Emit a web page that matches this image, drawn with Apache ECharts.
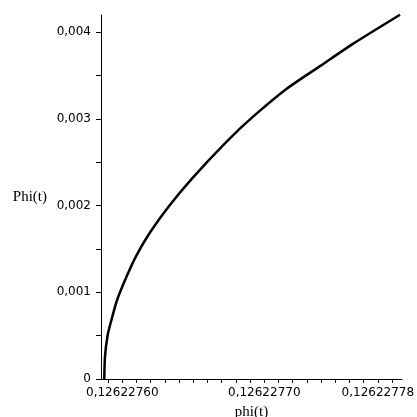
<!DOCTYPE html>
<html>
<head>
<meta charset="utf-8">
<script src="https://cdn.jsdelivr.net/npm/echarts@6/dist/echarts.min.js"></script>
<style>
html,body{margin:0;padding:0;background:#fff;}
#chart{width:417px;height:417px;}
</style>
</head>
<body>
<div id="chart"></div>
<script>
// phi(t) values (x)
const phiValues = [0.1262275873, 0.1262275878, 0.1262275897, 0.1262275920, 0.1262275961,
  0.1262276031, 0.1262276101, 0.1262276195, 0.1262276324, 0.1262276489,
  0.1262276735, 0.1262276923, 0.1262277158, 0.1262277392, 0.1262277627, 0.1262277956];
// Phi(t) values (y)
const PhiValues = [0, 0.000258, 0.000508, 0.000660, 0.000900, 0.001185, 0.001430, 0.001690,
  0.001985, 0.002310, 0.002740, 0.003030, 0.003350, 0.003610, 0.003870, 0.004203];
// x tick labels and tick marks
const xLabelValues = [0.12622760, 0.12622770, 0.12622778];
const xTickValues = [0.12622759, 0.12622760, 0.12622761, 0.12622762, 0.12622763, 0.12622764,
  0.12622765, 0.12622766, 0.12622767, 0.12622768, 0.12622769, 0.12622770, 0.12622771,
  0.12622772, 0.12622773, 0.12622774, 0.12622775, 0.12622776, 0.12622777, 0.12622778, 0.12622779];
// y tick labels and tick marks
const yLabelValues = [0, 0.001, 0.002, 0.003, 0.004];
const yTickValues = [0, 0.0005, 0.001, 0.0015, 0.002, 0.0025, 0.003, 0.0035, 0.004];

const xMin = 0.126227585, xMax = 0.126227797;
const yMin = 0, yMax = 0.0042;

const points = phiValues.map((x, i) => [x, PhiValues[i]]);

const chart = echarts.init(document.getElementById('chart'), null, {renderer: 'canvas'});
chart.setOption({
  animation: false,
  backgroundColor: '#ffffff',
  grid: {left: 101, right: 15, top: 15, bottom: 38, containLabel: false, outerBoundsMode: 'none'},
  xAxis: {
    type: 'value',
    min: xMin, max: xMax,
    name: 'phi(t)',
    nameLocation: 'middle',
    nameGap: 26,
    nameTextStyle: {fontFamily: 'Liberation Serif', fontSize: 15, color: '#000'},
    axisLine: {show: true, onZero: false, lineStyle: {color: '#000', width: 1}},
    axisTick: {show: true, length: 4, customValues: xTickValues, lineStyle: {color: '#000', width: 1}},
    axisLabel: {
      customValues: xLabelValues,
      margin: 8,
      color: '#000', fontFamily: 'DejaVu Sans', fontSize: 12,
      formatter: v => v.toFixed(8).replace('.', ',')
    },
    splitLine: {show: false}
  },
  yAxis: {
    type: 'value',
    min: yMin, max: yMax,
    name: 'Phi(t)',
    nameLocation: 'middle',
    nameRotate: 0,
    nameGap: 54,
    nameTextStyle: {fontFamily: 'Liberation Serif', fontSize: 15, color: '#000'},
    axisLine: {show: true, onZero: false, lineStyle: {color: '#000', width: 1}},
    axisTick: {show: true, length: 5, customValues: yTickValues, lineStyle: {color: '#000', width: 1}},
    axisLabel: {
      customValues: yLabelValues,
      margin: 10,
      color: '#000', fontFamily: 'DejaVu Sans', fontSize: 12,
      formatter: v => v === 0 ? '0' : v.toFixed(3).replace('.', ',')
    },
    splitLine: {show: false}
  },
  series: [{
    type: 'line',
    data: points,
    smooth: 0.2,
    showSymbol: false,
    lineStyle: {color: '#000', width: 2.5},
    clip: false
  }]
});
</script>
</body>
</html>
